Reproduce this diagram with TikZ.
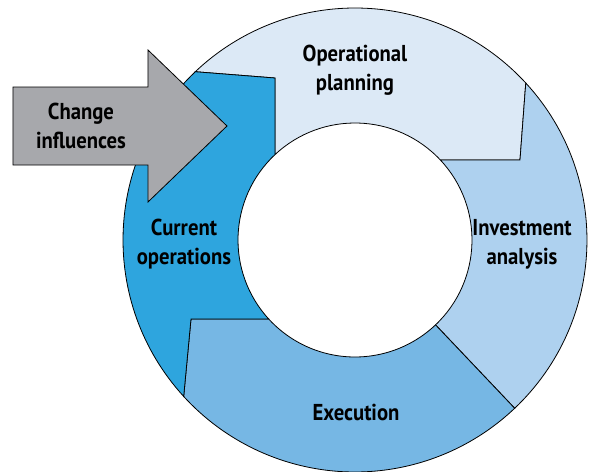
\documentclass[tikz,border=0pt]{standalone}
\usepackage{fontspec}
\setmainfont{PT Sans}[FakeStretch=0.9]
\definecolor{planblue}{HTML}{DCE9F6}
\definecolor{investblue}{HTML}{AED1EF}
\definecolor{execblue}{HTML}{76B7E4}
\definecolor{currentblue}{HTML}{2EA5DE}
\definecolor{changegray}{HTML}{A7A8AC}
\begin{document}
\begin{tikzpicture}[x=1pt,y=1pt,line width=0.8pt,
	segment/.style={draw=black,line join=miter},
	seglabel/.style={font=\bfseries\fontsize{23}{29}\selectfont,align=center}]
	\useasboundingbox (-355,-232) rectangle (235,240);
	% ring radii
	\def\outr{232}
	\def\inr{117}
	% Operational planning
	\draw[segment,fill=planblue] (133.5:\outr) arc[start angle=133.5,end angle=42.6,radius=\outr]
		-- (165,80) -- (43.1:\inr) arc[start angle=43.1,end angle=133.1,radius=\inr]
		-- (-80,162) -- cycle;
	% Investment analysis
	\draw[segment,fill=investblue] (42.6:\outr) arc[start angle=42.6,end angle=-46.5,radius=\outr]
		-- (-46.5:\inr) arc[start angle=-46.5,end angle=43.1,radius=\inr]
		-- (165,80) -- cycle;
	% Execution
	\draw[segment,fill=execblue] (-46.5:\outr) arc[start angle=-46.5,end angle=-137.6,radius=\outr]
		-- (-164,-79) -- (-137.5:\inr) arc[start angle=-137.5,end angle=-46.5,radius=\inr]
		-- cycle;
	% Current operations
	\draw[segment,fill=currentblue] (222.4:\outr) arc[start angle=222.4,end angle=133.5,radius=\outr]
		-- (-80,162) -- (133.1:\inr) arc[start angle=133.1,end angle=222.5,radius=\inr]
		-- (-164,-79) -- cycle;
	% change arrow
	\draw[segment,fill=changegray] (-342,153) -- (-207,153) -- (-207,190) -- (-128,114)
		-- (-207,38) -- (-207,75) -- (-342,75) -- cycle;
	\node[seglabel] (planning) at (0,170) {Operational\\planning};
	\node[seglabel] (investment) at (167,-4) {Investment\\analysis};
	\node[seglabel] (execution) at (1,-172) {Execution};
	\node[seglabel] (current) at (-171,-4) {Current\\operations};
	\node[seglabel] (change) at (-274,114) {Change\\influences};
\end{tikzpicture}
\end{document}
